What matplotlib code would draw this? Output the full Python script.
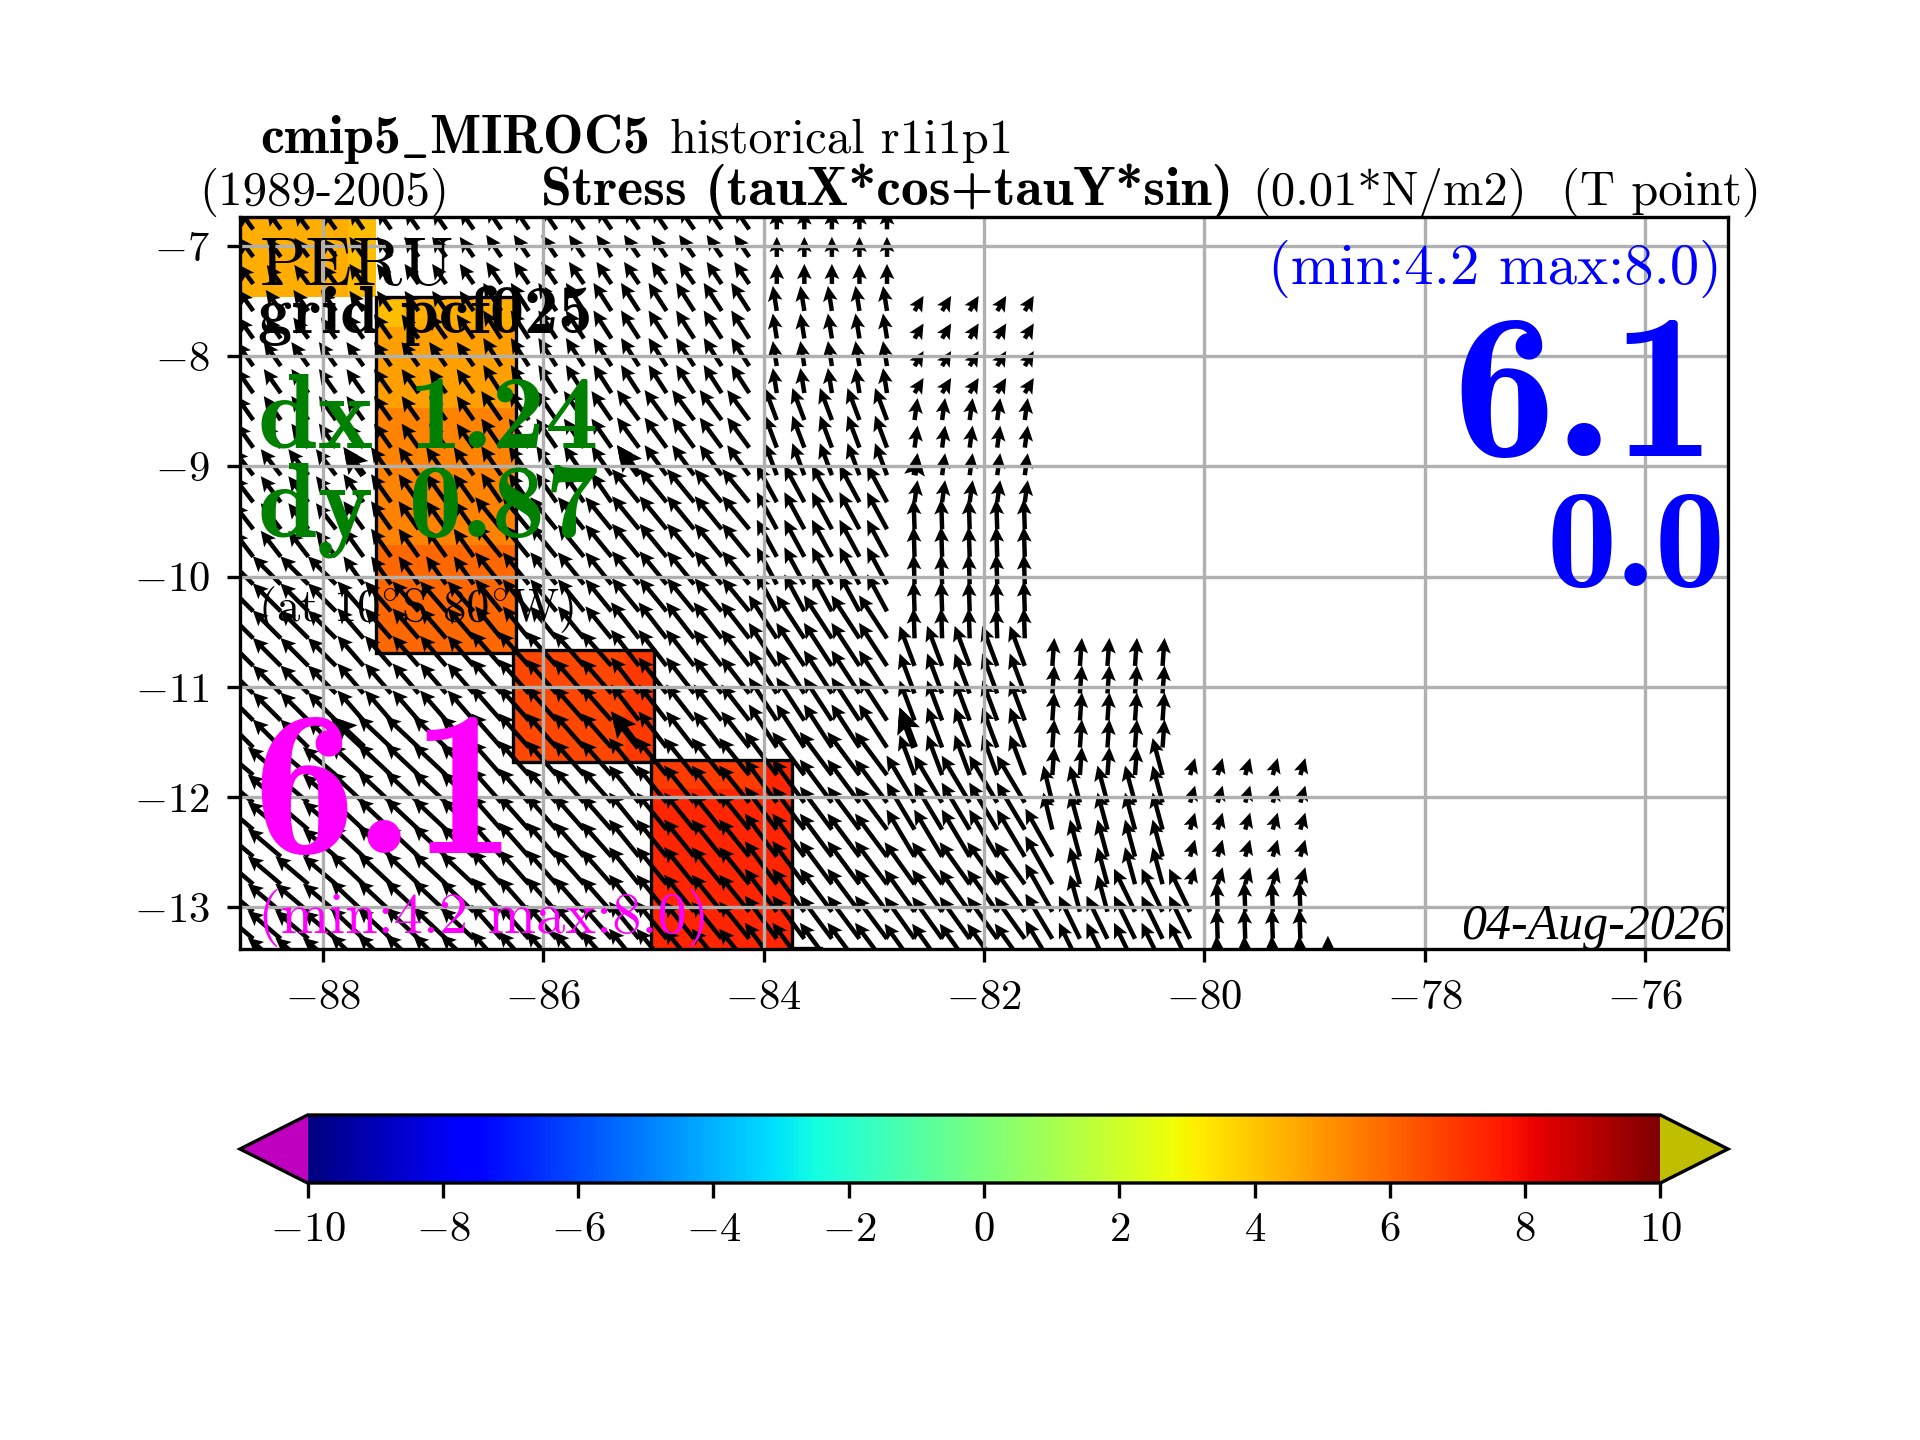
import numpy as np
import matplotlib
matplotlib.use("Agg")
import matplotlib.pyplot as plt
from matplotlib.cm import ScalarMappable
from matplotlib.colors import Normalize
from matplotlib.patches import Rectangle

plt.rcParams['font.family'] = ['cmr10', 'DejaVu Serif']
plt.rcParams['mathtext.fontset'] = 'cm'
plt.rcParams['axes.formatter.use_mathtext'] = True
plt.rcParams['axes.unicode_minus'] = True

W, H = 1920, 1440

# ---- data ----
x_ticks = [-88, -86, -84, -82, -80, -78, -76]
y_ticks = [-13, -12, -11, -10, -9, -8, -7]
cbar_ticks = [-10, -8, -6, -4, -2, 0, 2, 4, 6, 8, 10]

# shaded cells (stress value on the T grid)
cell_lon0 = [-88.75, -87.77, -87.52, -87.27, -87.52, -87.52, -87.52, -86.27, -85.26, -85.02, -84.01, -85.02]
cell_lon1 = [-87.77, -87.52, -87.27, -86.25, -86.25, -86.25, -86.25, -85.26, -84.99, -84.01, -83.74, -83.74]
cell_lat0 = [-7.467, -7.467, -7.735, -7.735, -8.47, -9.71, -10.69, -11.68, -11.68, -11.93, -11.93, -13.39]
cell_lat1 = [-6.73, -6.73, -7.463, -7.463, -7.735, -8.47, -9.71, -10.67, -10.67, -11.66, -11.66, -11.93]
cell_val = [4.5, 4.15, 4.15, 4.5, 4.8, 5.4, 6.0, 6.7, 7.0, 6.9, 7.4, 7.4]

# outlines of the shaded blocks
block_lon0 = [-87.52, -86.27, -85.02]
block_lon1 = [-86.25, -84.99, -83.74]
block_lat0 = [-10.69, -11.68, -13.39]
block_lat1 = [-7.463, -10.67, -11.66]
edge_lon = [-83.74, -83.48]
edge_lat = [-13.365, -13.365]

# vector grid
grid_lon = [-88.63, -88.38, -88.13, -87.88, -87.63, -87.38, -87.13, -86.88, -86.63, -86.38,
            -86.13, -85.88, -85.63, -85.38, -85.13, -84.88, -84.63, -84.38, -84.13, -83.88,
            -83.63, -83.38, -83.13, -82.88, -82.63, -82.38, -82.13, -81.88, -81.63, -81.38,
            -81.13, -80.88, -80.63, -80.38, -80.13, -79.88, -79.63, -79.38, -79.13, -78.88]
grid_lat = [-6.85, -7.10, -7.345, -7.59, -7.84, -8.09, -8.335, -8.58, -8.83, -9.08,
            -9.325, -9.57, -9.82, -10.07, -10.315, -10.56, -10.81, -11.06, -11.305, -11.55,
            -11.80, -12.05, -12.295, -12.54, -12.79, -13.04, -13.285, -13.53]

tile_lon0 = [-88.63]*6 + [-87.63]*5 + [-86.38]*5 + [-85.13]*6 + [-83.88]*6 + [-82.63]*6 + \
            [-81.38]*4 + [-81.13, -81.13, -81.13] + [-80.38, -80.38] + [-80.63, -81.13] + \
            [-80.13, -79.88, -78.88]
tile_lon1 = [-87.88]*6 + [-86.63]*5 + [-85.38]*5 + [-84.13]*6 + [-82.88]*6 + [-81.63]*6 + \
            [-81.38]*4 + [-80.63, -80.63, -80.88] + [-80.38, -80.38] + [-80.13, -80.13] + \
            [-79.13, -79.13, -78.88]
tile_row0 = [0, 3, 5, 9, 13, 20,  0, 4, 9, 14, 19,  0, 3, 7, 11, 16,  0, 3, 7, 10, 15, 20,
             0, 3, 7, 10, 15, 20,  3, 7, 11, 16, 21, 24,  16, 21, 23, 26,  16, 21, 25,  16, 20,
             25, 26,  20, 25, 27]
tile_row1 = [2, 4, 8, 12, 19, 27,  3, 8, 13, 18, 27,  2, 6, 10, 15, 27,  2, 6, 9, 14, 19, 27,
             2, 6, 9, 14, 19, 27,  6, 10, 15, 20, 23, 27,  20, 22, 25, 27,  20, 24, 25,  19, 24,
             25, 27,  24, 27, 27]
tile_u = [-14, -15, -17, -20, -28, -33,  -14, -17, -20, -26, -33,  -15, -18, -20, -26, -30,
          -15, -18, -22, -27, -28, -30,  0, -4, -12, -20, -28, -32,  9, 3, -1, -15, -28, -30,
          2, -9, -27, -27,  2, -10, -10,  2, -10,  -21, -21,  5, -1, 0]
tile_v = [19, 21, 24, 26, 28, 28,  20, 24, 28, 30, 31,  22, 28, 29, 32, 34,
          22, 28, 30, 33, 36, 37,  20, 25, 32, 37, 43, 43,  15, 22, 30, 40, 47, 42,
          28, 37, 48, 45,  28, 37, 37,  28, 37,  43, 43,  17, 30, 30]

# every tenth vector is emphasised
thick_col = [4, 14, 24]
thick_row = [9, 19]

# ---- texts ----
title1_bold = r"cmip5$\_$MIROC5"
title1_rest = "historical r1i1p1"
title2_period = "(1989-2005)"
title2_bold = "Stress (tauX*cos+tauY*sin)"
title2_unit = "(0.01*N/m2)"
title2_point = "(T point)"

# ---- build vector field ----
lon_arr = np.array(grid_lon)
lat_arr = np.array(grid_lat)
U = np.full((lat_arr.size, lon_arr.size), np.nan)
V = np.full((lat_arr.size, lon_arr.size), np.nan)
for lo0, lo1, r0, r1, u, v in zip(tile_lon0, tile_lon1, tile_row0, tile_row1, tile_u, tile_v):
    cols = (lon_arr >= lo0 - 1e-6) & (lon_arr <= lo1 + 1e-6)
    U[r0:r1 + 1, cols] = u
    V[r0:r1 + 1, cols] = v

# ---- figure ----
fig = plt.figure(figsize=(8, 6), dpi=240)
ax = fig.add_axes([240 / W, 1 - 949 / H, 1488 / W, 732 / H])
ax.set_xlim(-88.75, -75.25)
ax.set_ylim(-13.378, -6.738)

cmap = plt.get_cmap('jet').with_extremes(under=(0.75, 0, 0.75), over=(0.75, 0.75, 0))
norm = Normalize(-10, 10)

for lo0, lo1, la0, la1, val in zip(cell_lon0, cell_lon1, cell_lat0, cell_lat1, cell_val):
    ax.pcolormesh([lo0, lo1], [la0, la1], [[val]], cmap=cmap, norm=norm, zorder=1)
for lo0, lo1, la0, la1 in zip(block_lon0, block_lon1, block_lat0, block_lat1):
    ax.add_patch(Rectangle((lo0, la0), lo1 - lo0, la1 - la0, fill=False, ec='k', lw=1, zorder=1.5))
ax.plot(edge_lon, edge_lat, color='k', lw=1, zorder=1.5)

LON, LAT = np.meshgrid(lon_arr, lat_arr)
qkw = dict(angles='xy', scale_units='xy', scale=110.2, units='width', pivot='tail', color='k',
           zorder=2)
ax.quiver(LON, LAT, np.ma.masked_invalid(U), np.ma.masked_invalid(V), width=0.003,
          headwidth=3.3, headlength=3.4, headaxislength=2.9, **qkw)
tr, tc = np.meshgrid(thick_row, thick_col, indexing='ij')
ax.quiver(LON[tr, tc], LAT[tr, tc], U[tr, tc], V[tr, tc], width=0.0048,
          headwidth=3.4, headlength=3.6, headaxislength=3.1, **qkw)

ax.set_xticks(x_ticks)
ax.set_yticks(y_ticks)
ax.grid(True, color='#b0b0b0', lw=1.0, zorder=3)
ax.set_axisbelow(False)
for gl in ax.get_xgridlines() + ax.get_ygridlines():
    gl.set_zorder(3)
ax.tick_params(labelsize=12.8, length=3.9, width=1, pad=5.2)
for s in ax.spines.values():
    s.set_linewidth(1)
    s.set_zorder(5)


def label(x, y, s, size, color='k', ha='left', family=None, **extra):
    kw = dict(extra)
    if family:
        kw['family'] = family
    return fig.text(x / W, 1 - y / H, s, fontsize=size, color=color, ha=ha, va='baseline',
                    zorder=10, **kw)


BOLD = ['cmb10', 'DejaVu Serif']
label(260, 153, title1_bold, 16.2, family=BOLD)
label(670, 153, title1_rest, 14.55)
label(199, 205, title2_period, 14.7)
label(541, 205, title2_bold, 16.7, family=BOLD)
label(1252, 205, title2_unit, 14.6)
label(1561, 205, title2_point, 14.6)

label(260, 285, "PERU", 20.5)
label(258, 333, "grid pcf025", 20.5, family=BOLD)
label(258, 447, "dx 1.24", 32, color='green', family=BOLD)
label(258, 537, "dy 0.87", 32, color='green', family=BOLD)
label(258, 621, r"(at 10$^{\circ}$S 80$^{\circ}$W)", 14)
label(252, 853, "6.1", 62, color='magenta', family=BOLD)
label(258, 933, "(min:4.2 max:8.0)", 17.5, color='magenta')

label(1722, 284, "(min:4.2 max:8.0)", 17.6, color='blue', ha='right')
label(1716, 456, "6.1", 62, color='blue', ha='right', family=BOLD)
label(1726, 586, "0.0", 42, color='blue', ha='right', family=BOLD)
label(1725, 939, "04-Aug-2026", 15, ha='right', family='Liberation Serif', style='italic')

cax = fig.add_axes([240 / W, 1 - 1183 / H, 1488 / W, 68 / H])
cb = fig.colorbar(ScalarMappable(norm=norm, cmap=cmap), cax=cax, orientation='horizontal',
                  extend='both', ticks=cbar_ticks, extendfrac=0.05)
cb.outline.set_linewidth(1)
cb.ax.tick_params(labelsize=12.8, length=4.5, width=1, pad=4)

fig.savefig('out.png', dpi=240)
